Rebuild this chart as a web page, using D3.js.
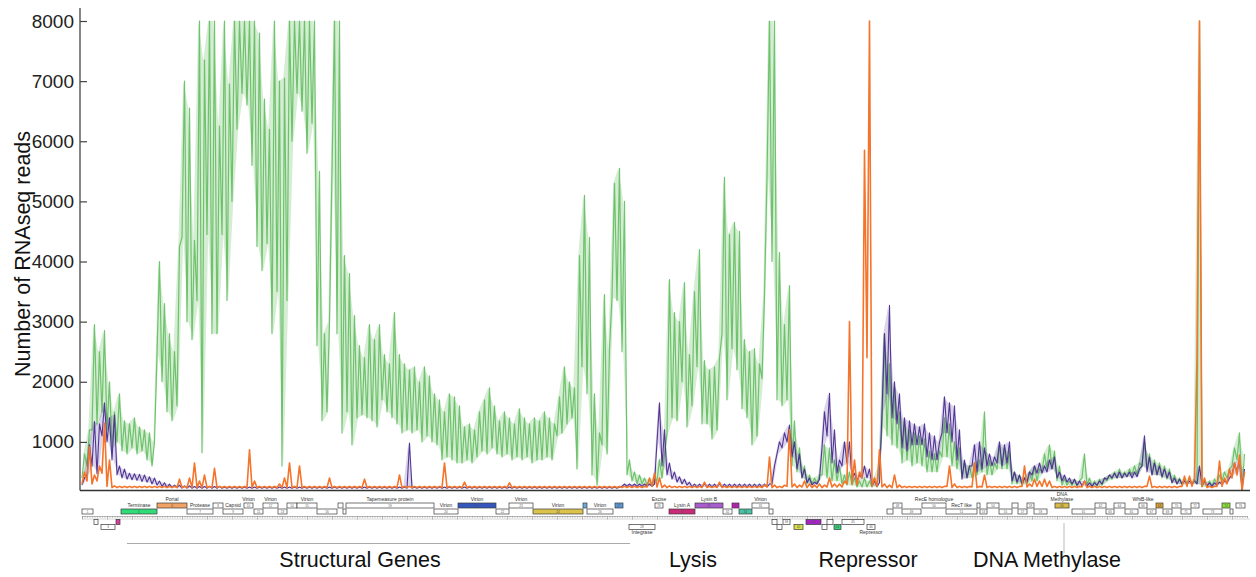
<!DOCTYPE html>
<html>
<head>
<meta charset="utf-8">
<script src="https://cdn.jsdelivr.net/npm/d3@7"></script>
<style>
body{margin:0;background:#fff;}
text{font-family:"Liberation Sans",Arial,sans-serif;}
</style>
</head>
<body>
<svg id="chart" width="1256" height="577"></svg>
<script>
// coverage is read per 0.2 kb bin: lowest and highest read count seen in that bin
var BIN = 0.2
var GENOME_KB = 46.6

var greenHi = [
	800,1200,2950,2500,2850,2000,1500,1800,1350,1300,
	1400,1250,1200,1150,1000,4000,3300,2800,2500,4250,
	7000,6550,4350,8000,7350,8000,8000,6250,8000,6950,
	8000,8000,8000,8000,8000,7800,6700,6200,8000,7000,
	7050,8000,8000,8000,8000,8000,8000,5500,2800,3000,
	8000,8000,4100,3800,3100,2600,2400,2950,2700,2950,
	2450,2300,3150,2450,2300,2200,2250,2000,2250,2100,
	1800,1700,1500,1800,1750,1600,1250,1300,1200,1500,
	1700,1900,1600,1350,1500,1400,1300,1550,1400,1300,
	1400,1350,1500,1400,1300,1750,2250,2000,1900,4100,
	5100,4400,1800,1150,3450,2550,5300,5550,5000,700,
	500,450,400,380,400,700,800,3700,3150,3000,
	3650,2450,3500,4200,2350,2200,2250,2400,5400,4450,
	4650,4500,2700,2500,2550,2300,3450,8000,8000,4150,
	2950,3600,1350,900,600,450,400,450,950,900,
	700,600,450,500,400,350,400,350,400,600,
	2800,2300,1900,1500,1350,1200,1150,1100,1050,850,
	800,850,1400,1300,1000,900,650,600,650,700,
	1500,700,650,950,900,850,500,450,400,500,
	600,550,800,950,850,600,400,350,380,350,
	800,400,350,380,400,450,500,550,500,550,
	600,650,1000,800,700,650,600,550,450,400,
	380,400,380,8000,350,350,380,450,500,550,
	900,1150,800
]
var greenLo = [
	400,600,1200,1300,1500,1200,900,1000,850,800,
	900,800,850,700,600,2450,2000,1500,1350,1600,
	4400,3000,2700,3350,820,4450,2800,2800,4450,3350,
	5000,6200,6800,6600,5600,4250,3850,4300,2800,3500,
	600,3350,6000,6800,6500,5800,6300,2600,1350,1500,
	5500,2800,1150,1500,950,1400,1450,1400,1350,1250,
	1700,1500,1400,1300,1150,1200,1150,1200,1000,1100,
	1000,950,700,750,700,650,650,700,650,750,
	850,800,900,800,750,800,700,750,700,750,
	650,700,700,750,700,1100,1150,1300,1400,550,
	2250,1800,450,280,950,800,3400,3350,2500,450,
	350,300,300,280,280,350,400,1150,1400,1350,
	2000,1250,1600,2250,1300,1300,1050,1200,2800,1700,
	2550,2200,1550,1400,950,1100,2050,5400,4000,1700,
	1600,1700,600,500,400,300,300,300,450,400,
	350,350,300,280,280,250,250,250,250,250,
	1250,1100,950,900,650,700,600,650,600,500,
	500,500,750,750,600,550,400,400,400,450,
	500,450,450,550,550,550,300,300,280,300,
	350,350,500,550,550,350,280,280,270,260,
	400,280,250,260,280,350,380,400,400,420,
	450,450,600,550,450,450,400,380,320,300,
	280,300,300,300,250,250,260,300,350,400,
	600,700,200
]

var purpleHi = [
	400,950,1340,1300,1650,1400,1450,600,550,480,
	470,460,450,420,400,350,320,300,280,280,
	270,270,260,260,260,260,260,260,250,250,
	250,250,250,250,250,250,250,250,250,250,
	250,250,250,250,250,250,250,250,250,250,
	250,250,250,250,250,250,250,250,250,250,
	250,250,250,250,250,980,250,250,250,250,
	250,250,250,250,250,250,250,250,250,250,
	250,250,250,250,250,250,250,250,250,250,
	250,250,250,250,250,250,250,250,250,250,
	250,250,250,250,250,250,250,250,300,300,
	300,300,300,300,300,1650,1200,650,500,420,
	380,330,300,300,300,300,300,300,300,300,
	300,300,300,300,300,300,300,300,600,1000,
	1150,1280,1000,800,550,400,330,380,1500,1810,
	1200,700,1000,1000,480,450,600,550,350,320,
	2800,3270,2000,1800,1400,1350,1300,1250,1300,1150,
	1100,1000,1750,1650,1600,1200,700,600,950,1000,
	900,800,750,1000,950,1000,500,450,400,500,
	600,650,600,700,750,500,450,400,380,350,
	350,320,320,350,400,450,480,500,480,500,
	500,550,1100,750,650,600,550,500,400,380,
	350,350,350,600,350,320,320,330,350,400,
	650,700,550
]
var purpleLo = [
	280,450,600,470,1100,1000,700,450,400,380,
	370,360,340,330,300,280,260,240,240,240,
	230,230,230,230,230,230,230,230,230,230,
	230,230,230,230,230,230,230,230,230,230,
	230,230,230,230,230,230,230,230,230,230,
	230,230,230,230,230,230,230,230,230,230,
	230,230,230,230,230,230,230,230,230,230,
	230,230,230,230,230,230,230,230,230,230,
	230,230,230,230,230,230,230,230,230,230,
	230,230,230,230,230,230,230,230,230,230,
	230,230,230,230,230,230,230,230,260,260,
	260,260,260,260,260,1000,600,450,380,330,
	300,280,250,250,250,250,250,250,250,250,
	250,250,250,250,250,250,250,250,300,800,
	900,1000,750,550,400,320,280,300,900,1100,
	650,480,600,650,380,350,400,400,270,260,
	1500,1800,1400,1300,900,850,950,950,950,750,
	700,700,1150,1150,1000,700,380,400,600,500,
	550,600,600,650,600,650,350,330,300,330,
	450,480,480,500,550,400,350,330,300,280,
	270,260,260,280,300,380,400,400,400,420,
	400,420,600,500,450,450,420,400,320,300,
	300,300,300,300,280,270,260,280,300,320,
	450,500,200
]

var orangeHi = [
	500,920,450,600,1310,700,270,260,260,260,
	260,260,260,260,260,260,260,260,260,380,
	260,400,650,350,450,260,560,260,260,260,
	260,260,260,870,350,260,260,260,260,300,
	400,650,260,600,260,260,260,260,260,400,
	260,260,260,260,260,260,380,260,260,260,
	260,260,260,450,260,260,260,260,260,260,
	260,260,650,260,260,260,330,260,260,260,
	260,260,260,260,260,320,260,260,260,260,
	260,260,260,260,260,260,260,260,260,260,
	260,260,260,260,260,260,260,260,260,260,
	260,260,260,400,480,400,280,270,260,260,
	260,260,260,260,330,260,260,330,260,260,
	260,260,260,260,260,260,280,750,280,260,
	280,1200,300,280,350,300,280,300,280,400,
	300,300,350,3000,700,500,5850,8000,400,870,
	300,280,450,280,260,260,260,260,260,260,
	260,260,260,600,300,260,260,260,650,260,
	450,260,260,260,260,260,260,260,600,300,
	380,350,380,350,260,260,260,260,260,260,
	350,260,260,260,260,260,260,260,260,260,
	260,260,260,430,260,260,260,260,260,260,
	430,430,400,8000,400,260,260,680,400,550,
	650,780,500
]
var orangeLo = [
	300,350,300,350,480,260,240,240,240,240,
	240,240,240,240,240,240,240,240,240,240,
	240,240,240,240,240,240,240,240,240,240,
	240,240,240,240,240,240,240,240,240,240,
	240,240,240,240,240,240,240,240,240,240,
	240,240,240,240,240,240,240,240,240,240,
	240,240,240,240,240,240,240,240,240,240,
	240,240,240,240,240,240,240,240,240,240,
	240,240,240,240,240,240,240,240,240,240,
	240,240,240,240,240,240,240,240,240,240,
	240,240,240,240,240,240,240,240,240,240,
	240,240,240,250,260,250,240,240,240,240,
	240,240,240,240,240,240,240,240,240,240,
	240,240,240,240,240,240,240,250,240,240,
	240,260,250,240,250,240,240,240,240,250,
	250,250,250,300,300,280,400,2400,260,260,
	250,240,240,240,240,240,240,240,240,240,
	240,240,240,260,240,240,240,240,250,240,
	250,240,240,240,240,240,240,240,260,250,
	260,260,260,260,240,240,240,240,240,240,
	250,240,240,240,240,240,240,240,240,240,
	240,240,240,260,240,240,240,240,240,240,
	260,260,260,2400,260,240,240,260,260,300,
	400,450,200
]

var yTicks = [1000,2000,3000,4000,5000,6000,7000,8000]

// genes: start kb, end kb, map row, name
var geneStart = [0.00,0.48,0.76,1.36,1.56,3.00,4.20,5.24,5.64,6.48,6.88,7.24,7.84,8.20,8.60,9.40,10.24,10.44,10.56,14.08,
	15.04,16.56,17.08,18.04,20.04,20.20,21.32,21.88,22.92,23.48,24.52,25.64,26.00,26.28,26.80,27.48,27.60,27.80,28.04,28.48,
	28.96,29.60,29.80,30.08,30.40,31.40,32.20,32.44,32.80,33.60,34.56,35.80,35.92,36.20,36.68,37.20,37.44,37.80,38.08,38.92,
	39.60,40.52,40.96,41.28,41.72,42.28,42.60,42.96,43.24,43.60,43.96,44.36,44.84,45.60,45.92,46.16]
var geneEnd = [0.44,0.64,1.32,1.52,3.00,4.20,5.24,5.64,6.44,6.84,7.24,7.84,8.20,8.60,9.40,10.20,10.44,10.56,14.08,15.04,
	16.56,17.08,18.04,20.04,20.20,21.24,21.64,22.92,23.24,24.52,25.64,26.00,26.28,26.80,27.48,27.64,27.80,28.00,28.32,28.84,
	29.56,29.80,30.04,30.36,31.28,31.72,32.44,32.80,33.56,34.56,35.80,35.92,36.20,36.68,37.20,37.44,37.80,38.08,38.60,39.48,
	40.52,40.96,41.28,41.72,42.24,42.60,42.96,43.24,43.60,43.96,44.36,44.68,45.60,45.92,46.04,46.52]
var geneRow = ["B","C","D","C","B","A","B","A","B","A","B","A","B","A","A","B","A","B","A","B",
	"A","B","A","B","A","B","A","D","A","B","A","B","A","B","A","B","C","D","C","D",
	"C","D","C","D","C","D","B","A","B","A","B","A","B","A","B","A","B","A","B","A",
	"B","A","B","A","B","A","B","A","B","A","B","A","B","A","B","A"]
var geneName = {5:"Terminase",6:"Portal",7:"Protease",9:"Capsid",10:"Virion",12:"Virion",15:"Virion",
	19:"Tapemeasure protein",20:"Virion",21:"Virion",23:"Virion",24:"Virion",26:"Virion",28:"Integrase",
	29:"Excise",30:"Lysin A",31:"Lysin B",35:"Virion",46:"Repressor",50:"RecE homologue",51:"RecT like",
	60:"DNA\nMethylase",66:"WhiB-like"}

var regionNames = ["Structural Genes","Lysis","Repressor","DNA Methylase"]
var regionKb = [11.12,24.44,31.44,38.6]

var geneFill = {4:"#d63f9e",5:"#2fdc78",6:"#f2a263",21:"#3456bd",24:"#dcc44c",25:"#6aacdf",27:"#5b9ad8",
	30:"#cc2a78",31:"#a95bd0",33:"#c21cc4",34:"#45c3a2",40:"#d9e244",41:"#a424c4",44:"#33d277",
	60:"#d8bb45",68:"#e2a434",74:"#88e234"}

var svg = d3.select("#chart")
svg.append("rect").attr("width",1256).attr("height",577).attr("fill","#fff")

var x = d3.scaleLinear().domain([0,GENOME_KB]).range([82,1247])
var y = d3.scaleLinear().domain([200,8000]).range([490,21])

svg.append("defs").append("clipPath").attr("id","plot")
	.append("rect").attr("x",80).attr("y",16).attr("width",1172).attr("height",474)

function zigzag(lo,hi){
	var pts = []
	for(var i=0;i<lo.length;i++){
		pts.push([i*BIN, lo[i]])
		pts.push([i*BIN+BIN/2, hi[i]])
	}
	return pts
}
var cap = function(v){return y(Math.min(v,8000))}
var line = d3.line().x(function(d){return x(d[0])}).y(function(d){return cap(d[1])})
var band = d3.area()
	.x(function(d,i){return x(i*BIN+BIN/4)})
	.y0(function(d){return cap(d[0])})
	.y1(function(d){return cap(d[1])})

var series = [
	{lo:greenLo, hi:greenHi, color:"#63bd60", w:1.2, op:0.9, fill:0.28},
	{lo:purpleLo, hi:purpleHi, color:"#4b2d90", w:1.1, op:0.95, fill:0.2},
	{lo:orangeLo, hi:orangeHi, color:"#f4742b", w:1.6, op:1, fill:0}
]
var plot = svg.append("g").attr("clip-path","url(#plot)")
series.forEach(function(s){
	var pairs = s.lo.map(function(v,i){return [v, s.hi[i]]})
	if(s.fill > 0){
		plot.append("path")
			.attr("d",band(pairs))
			.attr("fill",s.color)
			.attr("fill-opacity",s.fill)
	}
	plot.append("path")
		.attr("d",line(zigzag(s.lo,s.hi)))
		.attr("fill","none")
		.attr("stroke",s.color)
		.attr("stroke-width",s.w)
		.attr("stroke-opacity",s.op)
		.attr("stroke-linejoin","round")
})

// y axis, ticks point into the plot
var yAxis = d3.axisLeft(y).tickValues(yTicks).tickFormat(d3.format("d"))
	.tickSizeInner(-7).tickSizeOuter(0).tickPadding(6)
var ya = svg.append("g").attr("transform","translate(80,0)").call(yAxis)
ya.select(".domain").remove()
ya.selectAll(".tick line").attr("stroke","#444").attr("stroke-width",1.2)
ya.selectAll(".tick text").attr("font-size",19).attr("fill","#222")
	.style("font-family","'Liberation Sans',Arial,sans-serif")
svg.append("line").attr("x1",80).attr("x2",80).attr("y1",8).attr("y2",490.5)
	.attr("stroke","#444").attr("stroke-width",1.3)
svg.append("line").attr("x1",80).attr("x2",1250).attr("y1",490.5).attr("y2",490.5)
	.attr("stroke","#333").attr("stroke-width",1.5)

svg.append("text")
	.attr("transform","translate(29.5,254) rotate(-90)")
	.attr("text-anchor","middle")
	.attr("font-size",21.5)
	.attr("fill","#111")
	.text("Number of RNAseq reads")

// gene map
var ROW_Y = {A:503, B:509, C:519.5, D:524.5}
var GENE_H = 5
var map = svg.append("g")

// ruler
var ruler = d3.axisBottom(x).tickValues(d3.range(0,46.61,0.1)).tickSize(2).tickFormat("")
var rg = map.append("g").attr("transform","translate(0,516)").call(ruler)
rg.select(".domain").attr("stroke","#888").attr("stroke-width",0.6)
rg.selectAll(".tick line").attr("stroke","#999").attr("stroke-width",0.5)
rg.selectAll(".tick").filter(function(d,i){return i%10==0}).select("line").attr("y2",3.5).attr("stroke","#777")
map.append("line").attr("x1",82).attr("x2",1250).attr("y1",519).attr("y2",519)
	.attr("stroke","#aaa").attr("stroke-width",0.5)

geneStart.forEach(function(s,i){
	var n = i+1
	var gy = ROW_Y[geneRow[i]]
	var x0 = x(s), x1 = x(geneEnd[i])
	map.append("rect")
		.attr("x",x0).attr("y",gy).attr("width",Math.max(x1-x0,1.5)).attr("height",GENE_H)
		.attr("fill",geneFill[n] || "#fff")
		.attr("stroke","#3a3a3a").attr("stroke-width",0.7)
	if(x1-x0 > 6){
		map.append("text")
			.attr("x",(x0+x1)/2).attr("y",gy+3.6)
			.attr("text-anchor","middle").attr("font-size",3).attr("fill","#555")
			.text(n)
	}
	var name = geneName[n]
	if(name){
		var parts = name.split("\n")
		var ty
		if(geneRow[i]=="C" || geneRow[i]=="D") ty = gy + GENE_H + 4.5
		else ty = gy - 1.8 - (parts.length-1)*5.5
		var t = map.append("text")
			.attr("x",(x0+x1)/2).attr("y",ty)
			.attr("text-anchor","middle").attr("font-size",5).attr("fill","#333")
		parts.forEach(function(p,k){
			t.append("tspan").attr("x",(x0+x1)/2).attr("dy",k==0?0:5.5).text(p)
		})
	}
})

// region labels
svg.append("line").attr("x1",x(1.8)).attr("x2",x(21.92)).attr("y1",543.5).attr("y2",543.5)
	.attr("stroke","#aaa").attr("stroke-width",1)
svg.append("line").attr("x1",x(39.28)).attr("x2",x(39.28)).attr("y1",523).attr("y2",553)
	.attr("stroke","#bbb").attr("stroke-width",1)
svg.selectAll(".region").data(regionNames).enter().append("text")
	.attr("class","region")
	.attr("x",function(d,i){return x(regionKb[i])})
	.attr("y",567)
	.attr("text-anchor","middle")
	.attr("font-size",21.5)
	.attr("fill","#111")
	.text(function(d){return d})
</script>
</body>
</html>
